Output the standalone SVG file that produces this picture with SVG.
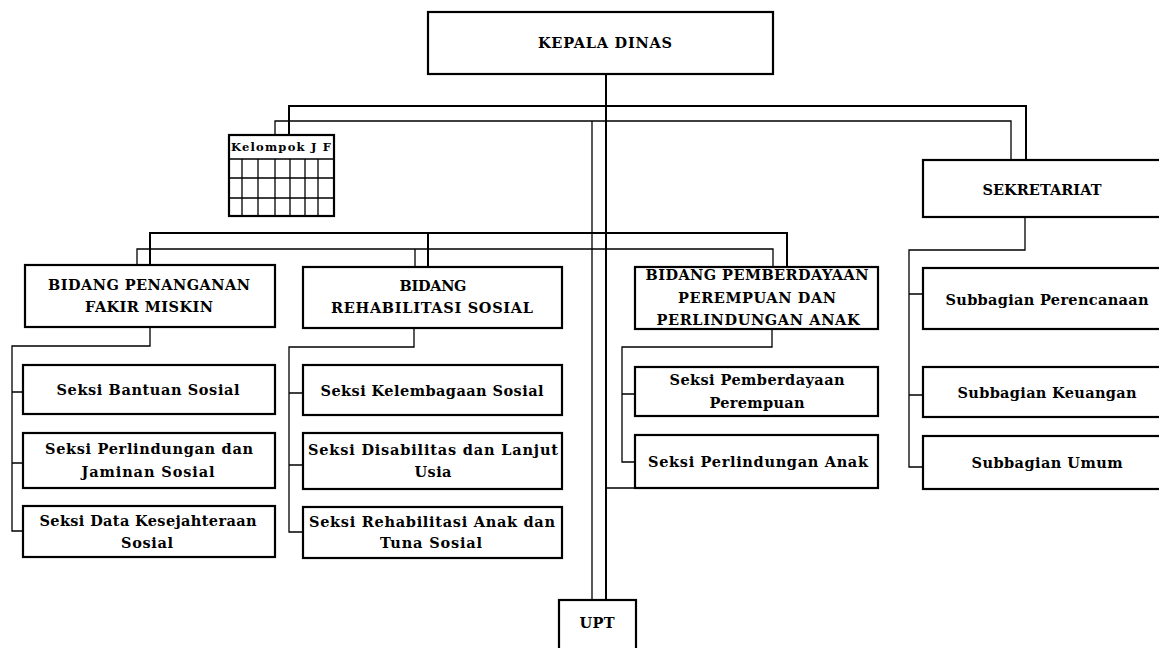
<svg xmlns="http://www.w3.org/2000/svg" width="1159" height="648" viewBox="0 0 1159 648">
<style>
.box{fill:#fff;stroke:#000;stroke-width:2.2}
.grid{fill:none;stroke:#000;stroke-width:1.3}
.thick{fill:none;stroke:#000;stroke-width:2}
.thin{fill:none;stroke:#000;stroke-width:1.3}
.t{font-family:"DejaVu Serif","Liberation Serif",serif;font-weight:bold;font-size:14.5px;fill:#000;text-anchor:middle}
.s{font-size:11.5px}
</style>
<rect width="1159" height="648" fill="#fff"/>
<g id="connectors">
<path class="thick" d="M606 74V600M289 135V106H1026V160M150 265V233H787V267M428 233V267"/>
<path class="thin" d="M592 121V600M275 135V121H1011V160M137 265V249H773V267M415 249V267"/>
<path class="thin" d="M150 327V346H12V531H23M12 392H23M12 463H23"/>
<path class="thin" d="M414 328V347H289V532H303M289 393H303M289 465H303"/>
<path class="thin" d="M772 329V347H622V462H635M622 394H635M606 488H635"/>
<path class="thin" d="M1025 217V250H909V467H923M909 294H923M909 395H923"/>
</g>
<g id="kepala"><rect class="box" x="428" y="12" width="345" height="62"/><text class="t" x="605" y="48" textLength="134" lengthAdjust="spacing">KEPALA DINAS</text></g>
<g id="kelompok-jf">
<rect class="box" x="229" y="135" width="105" height="81"/>
<path class="grid" d="M229 159H334M229 178H334M229 198H334M242 159V216M258 159V216M275 159V216M290 159V216M305 159V216M318 159V216"/>
<text class="t s" x="281" y="151" textLength="100" lengthAdjust="spacing">Kelompok J F</text>
</g>
<g id="sekretariat"><rect class="box" x="923" y="160" width="260" height="57"/><text class="t" x="1042" y="195" textLength="119" lengthAdjust="spacing">SEKRETARIAT</text></g>
<g id="bidang-fakir-miskin"><rect class="box" x="25" y="265" width="250" height="62"/>
<text class="t" x="149" y="290" textLength="202" lengthAdjust="spacing">BIDANG PENANGANAN</text>
<text class="t" x="149" y="312" textLength="128" lengthAdjust="spacing">FAKIR MISKIN</text></g>
<g id="bidang-rehabilitasi"><rect class="box" x="303" y="267" width="259" height="61"/>
<text class="t" x="433" y="291" textLength="67" lengthAdjust="spacing">BIDANG</text>
<text class="t" x="432" y="313" textLength="202" lengthAdjust="spacing">REHABILITASI  SOSIAL</text></g>
<g id="bidang-pemberdayaan"><rect class="box" x="635" y="267" width="243" height="62"/>
<text class="t" x="757" y="280" textLength="223" lengthAdjust="spacing">BIDANG PEMBERDAYAAN</text>
<text class="t" x="757" y="303" textLength="158" lengthAdjust="spacing">PEREMPUAN DAN</text>
<text class="t" x="758" y="325" textLength="203" lengthAdjust="spacing">PERLINDUNGAN ANAK</text></g>
<g id="seksi-bantuan"><rect class="box" x="23" y="365" width="252" height="49"/><text class="t" x="148" y="395" textLength="183" lengthAdjust="spacing">Seksi Bantuan Sosial</text></g>
<g id="seksi-perlindungan-jaminan"><rect class="box" x="23" y="433" width="252" height="55"/>
<text class="t" x="149" y="454" textLength="208" lengthAdjust="spacing">Seksi Perlindungan dan</text>
<text class="t" x="148" y="477" textLength="133" lengthAdjust="spacing">Jaminan Sosial</text></g>
<g id="seksi-data"><rect class="box" x="23" y="506" width="252" height="51"/>
<text class="t" x="148" y="526" textLength="217" lengthAdjust="spacing">Seksi Data Kesejahteraan</text>
<text class="t" x="147" y="548" textLength="52" lengthAdjust="spacing">Sosial</text></g>
<g id="seksi-kelembagaan"><rect class="box" x="303" y="365" width="259" height="50"/><text class="t" x="432" y="396" textLength="223" lengthAdjust="spacing">Seksi Kelembagaan Sosial</text></g>
<g id="seksi-disabilitas"><rect class="box" x="303" y="433" width="259" height="56"/>
<text class="t" x="433" y="455" textLength="250" lengthAdjust="spacing">Seksi Disabilitas dan Lanjut</text>
<text class="t" x="433" y="477" textLength="37" lengthAdjust="spacing">Usia</text></g>
<g id="seksi-rehabilitasi"><rect class="box" x="303" y="507" width="259" height="51"/>
<text class="t" x="432" y="527" textLength="246" lengthAdjust="spacing">Seksi Rehabilitasi Anak dan</text>
<text class="t" x="431" y="548" textLength="102" lengthAdjust="spacing">Tuna Sosial</text></g>
<g id="seksi-pemberdayaan"><rect class="box" x="635" y="367" width="243" height="49"/>
<text class="t" x="757" y="385" textLength="175" lengthAdjust="spacing">Seksi Pemberdayaan</text>
<text class="t" x="757" y="408" textLength="95" lengthAdjust="spacing">Perempuan</text></g>
<g id="seksi-perlindungan-anak"><rect class="box" x="635" y="435" width="243" height="53"/><text class="t" x="758" y="467" textLength="220" lengthAdjust="spacing">Seksi Perlindungan Anak</text></g>
<g id="subbagian-perencanaan"><rect class="box" x="923" y="268" width="260" height="61"/><text class="t" x="1047" y="305" textLength="203" lengthAdjust="spacing">Subbagian Perencanaan</text></g>
<g id="subbagian-keuangan"><rect class="box" x="923" y="367" width="260" height="50"/><text class="t" x="1047" y="398" textLength="179" lengthAdjust="spacing">Subbagian Keuangan</text></g>
<g id="subbagian-umum"><rect class="box" x="923" y="436" width="260" height="53"/><text class="t" x="1047" y="468" textLength="151" lengthAdjust="spacing">Subbagian Umum</text></g>
<g id="upt"><rect class="box" x="559" y="600" width="77" height="60"/><text class="t" x="597" y="628" textLength="35" lengthAdjust="spacing">UPT</text></g>
</svg>
